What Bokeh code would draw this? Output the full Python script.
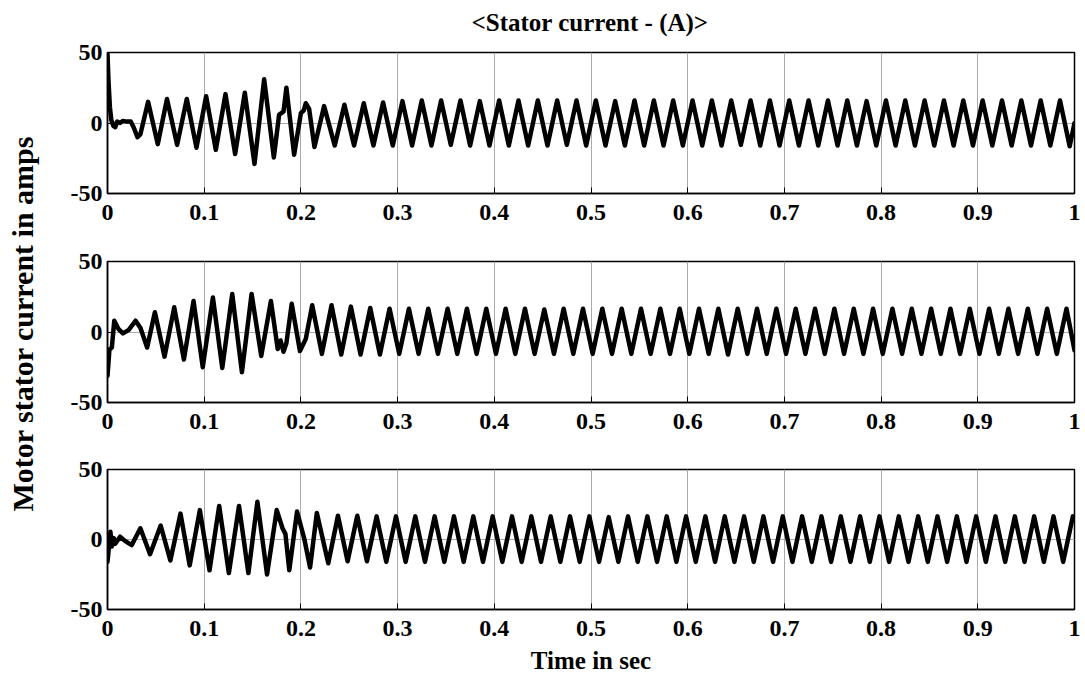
import math
from bokeh.plotting import figure
from bokeh.models import Range1d, FixedTicker, Label
from bokeh.layouts import row, column
from bokeh.embed import file_html
from bokeh.resources import INLINE

# ---------------- data ----------------
XTICKS = [0, 0.1, 0.2, 0.3, 0.4, 0.5, 0.6, 0.7, 0.8, 0.9, 1.0]
XLABELS = ["0", "0.1", "0.2", "0.3", "0.4", "0.5", "0.6", "0.7", "0.8", "0.9", "1"]
YTICKS = [-50, 0, 50]
YLABELS = ["-50", "0", "50"]

# Phase A (top panel): turning points, time in ms, current in A
ta_ms = [0, 1, 2.5, 4, 6, 8, 10, 13, 16, 20, 24, 27, 31, 34, 42, 52, 61.5, 72, 82, 92,
         102, 112, 122, 132, 142, 152, 162, 172, 177.5, 182, 185, 193, 200, 203, 205, 208.5, 214,
         224, 235, 245, 255, 265, 275, 285, 295,
         305, 315, 325, 335, 345, 355, 365, 375, 385, 395,
         405, 415, 425, 435, 445, 455, 465, 475, 485, 495,
         505, 515, 525, 535, 545, 555, 565, 575, 585, 595,
         605, 615, 625, 635, 645, 655, 665, 675, 685, 695,
         705, 715, 725, 735, 745, 755, 765, 775, 785, 795,
         805, 815, 825, 835, 845, 855, 865, 875, 885, 895,
         905, 915, 925, 935, 945, 955, 965, 975, 985, 995, 1000]
ia = [49, 30, 11, 2, -2, -3, 1, 0, 1.5, 1, 1, -3, -10, -8, 15, -15, 17, -15.5, 17, -17.5,
      19, -19, 20.5, -22, 21.5, -29, 31, -24.5, 6, 8, 25, -22.5, 7, 9, 14, 10, -17,
      12, -16, 13, -16, 14, -16, 14.5, -16,
      15.5, -16, 16, -16, 16, -15.5, 16, -16, 15.5, -16,
      16, -16, 16, -16, 16, -16, 16, -15.5, 16, -16,
      16, -16, 15.5, -16, 16, -16, 16, -16, 16, -16,
      16, -16, 16, -16, 16, -15.5, 16, -16, 16, -16,
      16, -16, 16, -16, 16, -16, 16, -16, 15.5, -16,
      16, -16, 16, -16, 16, -16, 16, -16, 16, -16,
      16, -16, 16, -16, 16, -16, 16, -16, 16, -16.5, 0]

# Phase B (middle panel)
tb_ms = [0, 2, 4.5, 7, 11.5, 16, 22, 29, 34, 41, 49, 59, 69, 79, 89, 98.5, 109, 118.7, 129, 139,
         149, 159, 169, 176, 179, 182, 185, 190.5, 199, 205, 211.7, 221.7, 231.7, 241.7, 251.7, 261.7,
         271.7, 281.7,
         291.7, 301.7, 311.7, 321.7, 331.7, 341.7, 351.7, 361.7, 371.7, 381.7,
         391.7, 401.7, 411.7, 421.7, 431.7, 441.7, 451.7, 461.7, 471.7, 481.7,
         491.7, 501.7, 511.7, 521.7, 531.7, 541.7, 551.7, 561.7, 571.7, 581.7,
         591.7, 601.7, 611.7, 621.7, 631.7, 641.7, 651.7, 661.7, 671.7, 681.7,
         691.7, 701.7, 711.7, 721.7, 731.7, 741.7, 751.7, 761.7, 771.7, 781.7,
         791.7, 801.7, 811.7, 821.7, 831.7, 841.7, 851.7, 861.7, 871.7, 881.7,
         891.7, 901.7, 911.7, 921.7, 931.7, 941.7, 951.7, 961.7, 971.7, 981.7,
         991.7, 1000]
ib = [-31, -12.5, -11, 8, 2, -1, 1.5, 8, 3, -11, 14, -17.5, 17.5, -19.5, 22, -25, 24.5, -25.5, 27, -28.5,
      27, -17, 22, -12, -6, -14, -8, 20, -13.5, -5, 19, -15.5, 19, -16, 18, -16,
      17, -16,
      16.5, -15.5, 16.5, -15.5, 16.5, -15.5, 16.5, -15.5, 16.5, -15.5,
      16.5, -15.5, 16.5, -15.5, 16.5, -15.5, 16, -15.5, 16.5, -15.5,
      16.5, -15.5, 16.5, -15.5, 16.5, -15.5, 16.5, -15.5, 16.5, -15.5,
      16.5, -15.5, 16.5, -15.5, 16.5, -16, 16.5, -15.5, 16.5, -15.5,
      16.5, -15.5, 16.5, -15.5, 16.5, -15.5, 16.5, -15.5, 16.5, -15.5,
      16.5, -15.5, 16.5, -15.5, 16.5, -15.5, 16.5, -15.5, 16.5, -15.5,
      16.5, -15.5, 16.5, -15.5, 16.5, -15.5, 16.5, -15.5, 16.5, -15.5,
      16.5, -13]

# Phase C (bottom panel)
tc_ms = [0, 3, 4.5, 6.5, 8, 13, 18, 25, 34, 44, 55, 65, 75.5, 85, 95.5, 105.5, 115.5, 125.5, 136, 145.7,
         155, 165, 175, 181, 184, 188, 196, 203.5, 209.5, 216.5, 228.3, 238.3, 248.3, 258.3,
         268.3, 278.3, 288.3, 298.3, 308.3, 318.3, 328.3, 338.3, 348.3, 358.3,
         368.3, 378.3, 388.3, 398.3, 408.3, 418.3, 428.3, 438.3, 448.3, 458.3,
         468.3, 478.3, 488.3, 498.3, 508.3, 518.3, 528.3, 538.3, 548.3, 558.3,
         568.3, 578.3, 588.3, 598.3, 608.3, 618.3, 628.3, 638.3, 648.3, 658.3,
         668.3, 678.3, 688.3, 698.3, 708.3, 718.3, 728.3, 738.3, 748.3, 758.3,
         768.3, 778.3, 788.3, 798.3, 808.3, 818.3, 828.3, 838.3, 848.3, 858.3,
         868.3, 878.3, 888.3, 898.3, 908.3, 918.3, 928.3, 938.3, 948.3, 958.3,
         968.3, 978.3, 988.3, 998.3, 1000]
ic = [-16, 5.5, -5, 1, -3, 2, -1, -4, 8, -10.5, 10, -15, 18.5, -18.5, 21, -22, 24, -24, 24, -24,
      27, -25, 21, 8, 4, -22, 20, 0.5, -20, 19, -17, 17, -15.5, 17,
      -15.5, 16.5, -16, 16.5, -16, 16.5, -16, 16.5, -16, 16.5,
      -16, 16.5, -16, 16.5, -16, 16.5, -16, 16.5, -16, 16.5,
      -16, 16.5, -16, 16.5, -16, 16, -16, 16.5, -16, 16.5,
      -16, 16.5, -16, 16.5, -16, 16.5, -16, 16.5, -16, 16.5,
      -16, 16.5, -16, 16.5, -16, 16.5, -16, 16.5, -16, 16.5,
      -16, 16.5, -16, 16.5, -16, 16.5, -16, 16.5, -16, 16.5,
      -16, 16.5, -16, 16.5, -16, 16.5, -16, 16.5, -16, 16.5,
      -16, 16.5, -16, 16.5, 15]

TITLE = "<Stator current - (A)>"
XLABEL = "Time in sec"
YLABEL = "Motor stator current in amps"

# ---------------- styling ----------------
FONT = "Liberation Serif"


def style_axis(ax, ticks, labels, standoff):
    ax.ticker = FixedTicker(ticks=ticks)
    ax.major_label_overrides = {v: s for v, s in zip(ticks, labels)}
    ax.major_tick_in = 6
    ax.major_tick_out = 0
    ax.minor_tick_in = 0
    ax.minor_tick_out = 0
    ax.major_tick_line_color = "black"
    ax.axis_line_color = "black"
    ax.axis_line_width = 1.5
    ax.major_label_standoff = standoff
    ax.major_label_text_font = FONT
    ax.major_label_text_font_style = "bold"
    ax.major_label_text_font_size = "24px"
    ax.major_label_text_color = "black"


def text_box(width, height, x, y, text, size, angle=0.0):
    f = figure(width=width, height=height, x_range=Range1d(0, width), y_range=Range1d(0, height),
               output_backend="svg", toolbar_location=None, min_border=0,
               x_axis_location=None, y_axis_location=None)
    f.outline_line_color = None
    f.grid.visible = False
    f.add_layout(Label(x=x, y=y, text=text, angle=angle, text_align="center",
                       text_baseline="middle", text_font=FONT, text_font_style="bold",
                       text_font_size=size, text_color="black"))
    return f


def make_panel(height, top, bottom, t_ms, cur, xlabel=None):
    p = figure(width=1037, height=height, x_range=Range1d(0, 1), y_range=Range1d(-50, 50),
               output_backend="svg", toolbar_location=None,
               min_border_left=59, min_border_right=11, min_border_top=top, min_border_bottom=bottom)
    p.background_fill_color = "white"
    p.border_fill_color = "white"
    p.outline_line_color = "black"
    p.outline_line_width = 1.5
    p.xgrid.grid_line_color = "#aaaaaa"
    p.ygrid.grid_line_color = "#aaaaaa"
    p.xgrid.grid_line_width = 1
    p.ygrid.grid_line_width = 1
    xax = p.below[0]
    yax = p.left[0]
    style_axis(xax, XTICKS, XLABELS, 11)
    style_axis(yax, YTICKS, YLABELS, 5)
    p.line(x=[t / 1000.0 for t in t_ms], y=cur, line_color="black", line_width=4.5,
           line_join="round", line_cap="round")
    if xlabel is not None:
        xax.axis_label = xlabel
        xax.axis_label_text_font = FONT
        xax.axis_label_text_font_style = "bold"
        xax.axis_label_text_font_size = "25px"
        xax.axis_label_text_color = "black"
        xax.axis_label_standoff = 8
    return p


ft = text_box(1037, 40, 517.5, 18, TITLE, "25px")
f1 = make_panel(191, 12, 38, ta_ms, ia)
f2 = make_panel(209, 30, 38, tb_ms, ib)
f3 = make_panel(239, 29, 70, tc_ms, ic, xlabel=XLABEL)

yl = text_box(48, 679, 22, 356, YLABEL, "30px", angle=math.pi / 2)

layout = row(yl, column(ft, f1, f2, f3))
open("out.html", "w").write(file_html(layout, INLINE))
